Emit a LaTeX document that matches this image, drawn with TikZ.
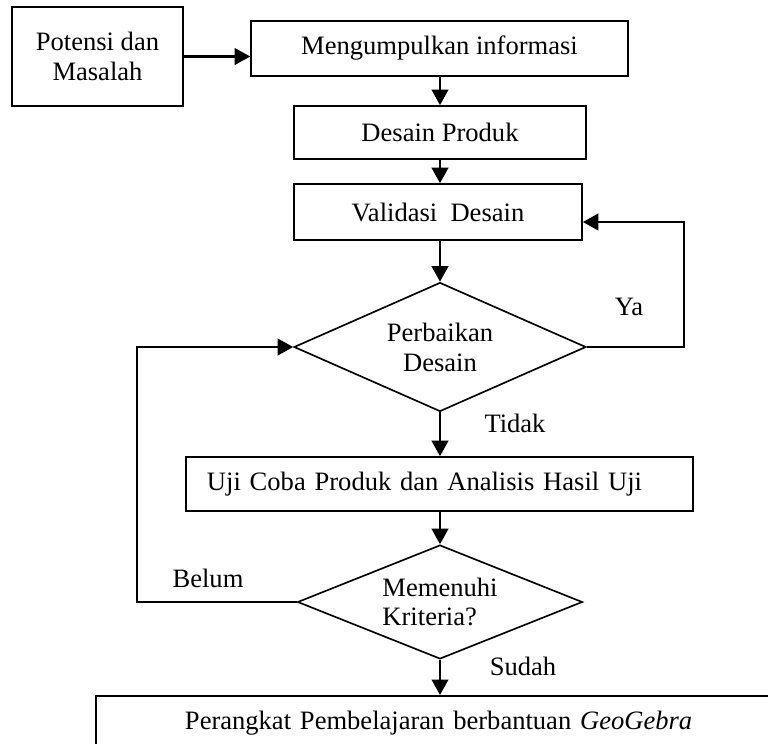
\documentclass[tikz,border=0pt]{standalone}
\usepackage{fontspec}
\setmainfont{Liberation Serif}
\usetikzlibrary{shapes.geometric,arrows.meta}
\tikzset{
	box/.style={draw,line width=0.75pt,rectangle,inner sep=0pt,align=center},
	dec/.style={draw,line width=0.75pt,diamond,inner sep=0pt},
	arr/.style={line width=1pt,-{Triangle[length=7pt,width=7.5pt]}},
	lbl/.style={inner sep=0pt}
}
\begin{document}
\begin{tikzpicture}[x=0.452pt,y=-0.452pt,font=\fontsize{12}{13.5}\selectfont]
		\useasboundingbox (0,0) rectangle (768,744);
		% boxes
		\node[box,minimum width=77.3pt,minimum height=44.7pt] (pot) at (97.5,56.5) {Potensi dan\\Masalah};
		\node[box,minimum width=170.4pt,minimum height=24.9pt] (meng) at (439.5,48.5) {Mengumpulkan informasi};
		\node[box,minimum width=132pt,minimum height=24pt] (desain) at (440,132.5) {Desain Produk};
		\node[box,minimum width=130.2pt,minimum height=25.3pt] (valid) at (438,212) {Validasi~ Desain};
		\node[box,align=left,inner xsep=9.5pt,text width=210.2pt,minimum height=24.4pt] (uji) at (439.5,484) {Uji Coba Produk dan Analisis Hasil Uji};
		\node[box,align=left,anchor=north,inner xsep=40.2pt,text width=246.8pt,text height=15.3pt,text depth=20pt] (final) at (458,695) {Perangkat Pembelajaran berbantuan \textit{GeoGebra}};
		% decisions
		\node[dec,align=center,aspect=2.26,minimum width=132pt,minimum height=58.3pt] (perb) at (440,347) {Perbaikan\\Desain};
		\node[dec,align=left,aspect=2.5,minimum width=128.8pt,minimum height=51.5pt] (memen) at (440,602) {Memenuhi\\Kriteria?};
		% turning points
		\coordinate (yaturn) at (684,222);
		\coordinate (belumturn) at (137,347);
		% arrows
		\draw[arr] (pot.east) -- (pot.east -| meng.west);
		\draw[arr] (desain.north |- meng.south) -- (desain.north);
		\draw[arr] (desain.south) -- (desain.south |- valid.north);
		\draw[arr] (perb.north |- valid.south) -- (perb.north);
		\draw[arr] (perb.south) -- (perb.south |- uji.north);
		\draw[arr] (memen.north |- uji.south) -- (memen.north);
		\draw[arr] (memen.south) -- (memen.south |- final.north);
		\draw[arr] (perb.east) -| (yaturn) -- (yaturn -| valid.east);
		\draw[arr] (memen.west) -| (belumturn) -- (perb.west);
		% labels
		\node[lbl] (ya) at (629,307) {Ya};
		\node[lbl] (tidak) at (515,423) {Tidak};
		\node[lbl] (belum) at (208,578) {Belum};
		\node[lbl] (sudah) at (523,666) {Sudah};
	\end{tikzpicture}
\end{document}
